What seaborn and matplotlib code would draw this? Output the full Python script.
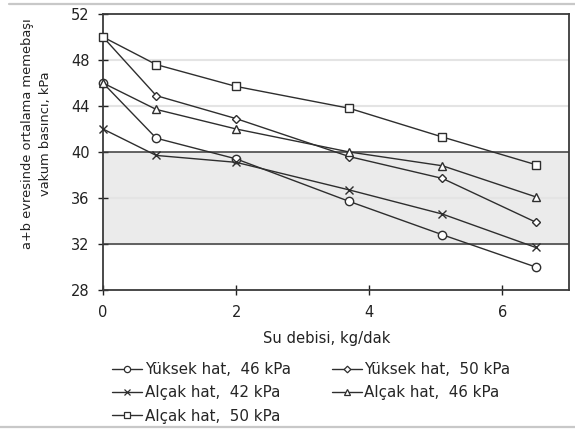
import matplotlib
matplotlib.use("Agg")
import matplotlib.pyplot as plt
from matplotlib.lines import Line2D
import seaborn as sns
import pandas as pd

x_vals = [0, 0.8, 2, 3.7, 5.1, 6.5]
yuksek_46 = [46.0, 41.2, 39.4, 35.7, 32.8, 30.0]
yuksek_50 = [50.0, 44.9, 42.9, 39.6, 37.7, 33.9]
alcak_42 = [42.0, 39.7, 39.1, 36.7, 34.6, 31.7]
alcak_46 = [46.0, 43.7, 42.0, 40.0, 38.8, 36.1]
alcak_50 = [50.0, 47.6, 45.7, 43.8, 41.3, 38.9]

series_names = ["Yüksek hat,  46 kPa", "Yüksek hat,  50 kPa",
                "Alçak hat,  42 kPa", "Alçak hat,  46 kPa", "Alçak hat,  50 kPa"]
series_vals = [yuksek_46, yuksek_50, alcak_42, alcak_46, alcak_50]
markers = ["o", "D", "x", "^", "s"]
msizes = [6, 4.5, 5.5, 6, 6]

y_ticks = [28, 32, 36, 40, 44, 48, 52]
x_ticks = [0, 2, 4, 6]

rows = []
for name, vals in zip(series_names, series_vals):
    for xv, yv in zip(x_vals, vals):
        rows.append({"x": xv, "y": yv, "seri": name})
df = pd.DataFrame(rows)

sns.set_theme(style="white")
plt.rcParams['font.family'] = ['DejaVu Sans']

fig = plt.figure(figsize=(5.75, 4.3), dpi=100)
ax = fig.add_axes([0.1791, 0.3256, 0.8104, 0.6419])

ax.axhspan(32, 40, color="#ebebeb", zorder=0)
for g in [36, 44, 48]:
    ax.axhline(g, color="#e4e4e4", lw=1.5, zorder=0.5)
for g in [32, 40]:
    ax.axhline(g, color="#3a3a3a", lw=1.1, zorder=1)

line_col = "#2e2e2e"
handles = {}
for name, mk, ms in zip(series_names, markers, msizes):
    sub = df[df["seri"] == name]
    sns.lineplot(data=sub, x="x", y="y", ax=ax, color=line_col, lw=1.0,
                 marker=mk, markersize=ms, markerfacecolor="white",
                 markeredgecolor=line_col, markeredgewidth=1.0, zorder=3,
                 legend=False, clip_on=False)
    handles[name] = Line2D([], [], color=line_col, lw=1.0, marker=mk,
                           markersize=ms * 0.75, markerfacecolor="white",
                           markeredgecolor=line_col, markeredgewidth=0.9)

ax.set_xlim(0, 7)
ax.set_ylim(28, 52)
ax.set_xticks(x_ticks)
ax.set_yticks(y_ticks)
ax.tick_params(axis="both", labelsize=10.5, colors="#222222", length=7,
               direction="inout", left=True, bottom=True, width=1)
ax.tick_params(axis="x", pad=7)
ax.tick_params(axis="y", pad=6)
for sp in ax.spines.values():
    sp.set_color("#3a3a3a")
    sp.set_linewidth(1.3)

ax.set_xlabel("Su debisi, kg/dak", fontsize=10.6, color="#222222")
ax.xaxis.set_label_coords(0.48, -0.148)
ax.set_ylabel("")
fig.text(0.0635, 0.69, "a+b evresinde ortalama memebaşı\nvakum basıncı, kPa",
         rotation=90, ha="center", va="center", multialignment="center",
         fontsize=9.4, color="#222222", linespacing=1.5)

order = [series_names[i] for i in [0, 2, 4, 1, 3]]
fig.legend([handles[n] for n in order], order, ncol=2, frameon=False,
           loc="upper left", bbox_to_anchor=(0.195, 0.158), fontsize=10.9,
           handlelength=2.0, handletextpad=0.15, columnspacing=2.7,
           labelspacing=0.55, borderaxespad=0, borderpad=0)

fig.add_artist(Line2D([0.016, 1.0], [0.9907, 0.9907], color="#c8c8c8", lw=1.6,
                      transform=fig.transFigure))
fig.add_artist(Line2D([0.0, 1.0], [0.008, 0.008], color="#c8c8c8", lw=1.6,
                      transform=fig.transFigure))

fig.savefig("out.png", dpi=100)
